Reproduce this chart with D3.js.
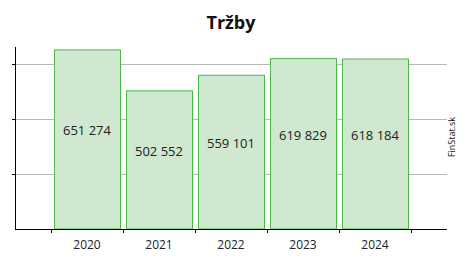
<!DOCTYPE html>
<html>
<head>
<meta charset="utf-8">
<script src="https://cdn.jsdelivr.net/npm/d3@7"></script>
<style>
  body { margin: 0; background: #fff; }
  text { font-family: "Open Sans", "Noto Sans", sans-serif; }
</style>
</head>
<body>
<svg id="chart" width="465" height="260"></svg>
<script>
// Data
var years = ["2020", "2021", "2022", "2023", "2024"];
var revenue = [651274, 502552, 559101, 619829, 618184];
var gridTicks = [200000, 400000, 600000];
var title = "Tržby";
var source = "FinStat.sk";

var margin = { top: 47, right: 18, bottom: 31, left: 15 },
  width = 465 - margin.left - margin.right,
  height = 260 - margin.top - margin.bottom;

var svg = d3.select("#chart");

svg.append("text")
  .attr("x", 231)
  .attr("y", 29)
  .attr("text-anchor", "middle")
  .style("font-size", "18px")
  .style("font-weight", "bold")
  .style("fill", "#111")
  .text(title);

var g = svg.append("g")
  .attr("transform", "translate(" + margin.left + "," + margin.top + ")");

// scales
var xScale = d3.scaleBand()
  .domain(years)
  .range([0, width])
  .paddingInner(0)
  .paddingOuter(0.5);

var yScale = d3.scaleLinear()
  .domain([0, 662000])
  .range([height, 0]);

// gridlines
g.selectAll(".grid")
  .data(gridTicks)
  .enter().append("line")
  .attr("x1", 0)
  .attr("x2", width)
  .attr("y1", function(d) { return Math.round(yScale(d)) + 0.5; })
  .attr("y2", function(d) { return Math.round(yScale(d)) + 0.5; })
  .style("stroke", "#b8b8b8")
  .style("stroke-width", 1);

// bars
var inset = 3;
g.selectAll(".bar")
  .data(years)
  .enter().append("rect")
  .attr("class", "bar")
  .attr("x", function(d) { return xScale(d) + inset + 0.5; })
  .attr("y", function(d, i) { return yScale(revenue[i]); })
  .attr("width", xScale.bandwidth() - 2 * inset)
  .attr("height", function(d, i) { return height - yScale(revenue[i]); })
  .style("fill", "#d0e8d0")
  .style("stroke", "#4cb84c")
  .style("stroke-width", 1);

// value labels
var fmt = function(v) { return d3.format(",")(v).replace(/,/g, " "); };
g.selectAll(".val")
  .data(years)
  .enter().append("text")
  .attr("x", function(d) { return xScale(d) + xScale.bandwidth() / 2; })
  .attr("y", function(d, i) { return (yScale(revenue[i]) + height) / 2 - 4; })
  .attr("text-anchor", "middle")
  .style("font-size", "13px")
  .style("fill", "#222")
  .text(function(d, i) { return fmt(revenue[i]); });

// y axis (no labels)
var yAxis = d3.axisLeft(yScale)
  .tickValues(gridTicks)
  .tickSize(3)
  .tickFormat("");
var ya = g.append("g").call(yAxis);
ya.select(".domain").attr("d", "M0.5,0V" + height).style("stroke", "#000");
ya.selectAll(".tick line").style("stroke", "#000");

// x axis with ticks at band edges
var xa = g.append("g").attr("transform", "translate(0," + height + ")");
xa.append("line")
  .attr("x1", 0).attr("x2", width)
  .attr("y1", 0.5).attr("y2", 0.5)
  .style("stroke", "#000");
var edges = years.map(function(d) { return xScale(d); });
edges.push(xScale(years[years.length - 1]) + xScale.bandwidth());
xa.selectAll(".edge")
  .data(edges)
  .enter().append("line")
  .attr("x1", function(d) { return Math.round(d) + 0.5; })
  .attr("x2", function(d) { return Math.round(d) + 0.5; })
  .attr("y1", 0).attr("y2", 4)
  .style("stroke", "#000");
xa.selectAll(".lbl")
  .data(years)
  .enter().append("text")
  .attr("x", function(d) { return xScale(d) + xScale.bandwidth() / 2; })
  .attr("y", 20)
  .attr("text-anchor", "middle")
  .style("font-size", "12px")
  .style("fill", "#222")
  .text(function(d) { return d; });

// source
svg.append("text")
  .attr("transform", "translate(455,137) rotate(-90)")
  .attr("text-anchor", "middle")
  .style("font-size", "9px")
  .style("fill", "#111")
  .text(source);
</script>
</body>
</html>
